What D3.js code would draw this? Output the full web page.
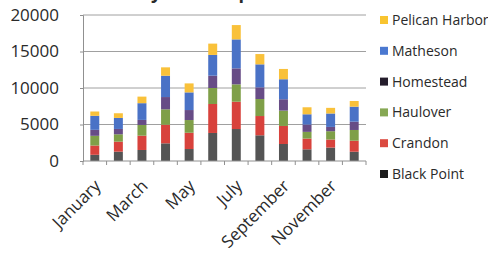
<!DOCTYPE html>
<html>
<head>
<meta charset="utf-8">
<script src="https://cdn.jsdelivr.net/npm/d3@7"></script>
<style>
  body { margin: 0; background: #fff; }
  svg text { font-family: "Open Sans", sans-serif; fill: #2a2a2a; }
</style>
</head>
<body>
<div id="chart"></div>
<script>
var months = ['January', 'February', 'March', 'April', 'May', 'June', 'July',
              'August', 'September', 'October', 'November', 'December'];
var parks = ['Black Point', 'Crandon', 'Haulover', 'Homestead', 'Matheson', 'Pelican Harbor'];

var blackPoint    = [850, 1280, 1510, 2420, 1640, 3840, 4380, 3520, 2330, 1600, 1840, 1270];
var crandon       = [1270, 1370, 1960, 2550, 2230, 3970, 3740, 2640, 2470, 1470, 1100, 1510];
var haulover      = [1330, 1010, 1470, 2110, 1740, 2190, 2380, 2330, 2100, 920, 1140, 1470];
var homestead     = [820, 730, 690, 1680, 1370, 1690, 2190, 1600, 1560, 1000, 590, 1140];
var matheson      = [1920, 1510, 2290, 2920, 2420, 2840, 3970, 3150, 2740, 1410, 1840, 2050];
var pelicanHarbor = [590, 640, 900, 1150, 1230, 1550, 1960, 1410, 1410, 960, 770, 780];

var yTicks = [0, 5000, 10000, 15000, 20000];
var xLabels = ['January', 'March', 'May', 'July', 'September', 'November'];
var title = 'Monthly Visitors per Park';

var barColors = ['#545454', '#d8423c', '#7f9f48', '#674c86', '#4a72c6', '#f9c13a'];
var swatchColors = ['#1c1c1c', '#db4a40', '#86a854', '#241d2c', '#4a78d0', '#f8c430'];

var width = 488, height = 254;
var plotLeft = 83, plotRight = 366, plotTop = 15, plotBottom = 161;

var series = [blackPoint, crandon, haulover, homestead, matheson, pelicanHarbor];
var rows = months.map(function (m, i) {
    var r = { month: m };
    parks.forEach(function (p, j) { r[p] = series[j][i]; });
    return r;
});
var stacked = d3.stack().keys(parks)(rows);

var svg = d3.select('#chart').append('svg')
    .attr('width', width)
    .attr('height', height);

var x = d3.scaleBand().domain(months).range([plotLeft, plotRight]).paddingInner(0.62).paddingOuter(0.31);
var xTickScale = d3.scaleBand().domain(months).range([plotLeft, plotRight]);
var y = d3.scaleLinear().domain([0, 20000]).range([plotBottom, plotTop]);

// title, mostly cut off by the top edge
svg.append('text')
    .attr('x', 86)
    .attr('y', -1)
    .style('font-size', '18px')
    .style('font-weight', 'bold')
    .text(title);

// gridlines
svg.append('g')
    .selectAll('line')
    .data(yTicks.slice(1))
    .enter().append('line')
    .attr('x1', plotLeft).attr('x2', plotRight)
    .attr('y1', function (d) { return y(d); })
    .attr('y2', function (d) { return y(d); })
    .attr('stroke', '#a0a0a0')
    .attr('stroke-width', 1);

// y axis
var yAxis = svg.append('g')
    .attr('transform', 'translate(' + plotLeft + ',0)')
    .call(d3.axisLeft(y).tickValues(yTicks).tickSize(3).tickPadding(21).tickFormat(d3.format('d')));
yAxis.select('.domain').attr('stroke', '#909090');
yAxis.selectAll('.tick line').attr('stroke', '#909090');
yAxis.selectAll('text').style('font-size', '17px').attr('fill', '#2a2a2a')
    .style('font-family', '"Open Sans", sans-serif');

// bars
svg.append('g')
    .selectAll('g')
    .data(stacked)
    .enter().append('g')
    .attr('fill', function (d, i) { return barColors[i]; })
    .selectAll('rect')
    .data(function (d) { return d; })
    .enter().append('rect')
    .attr('x', function (d) { return x(d.data.month); })
    .attr('width', x.bandwidth())
    .attr('y', function (d) { return y(d[1]); })
    .attr('height', function (d) { return y(d[0]) - y(d[1]); });

// x axis with ticks at band edges
var xAxisG = svg.append('g').attr('transform', 'translate(0,' + plotBottom + ')');
xAxisG.append('line')
    .attr('x1', plotLeft).attr('x2', plotRight)
    .attr('stroke', '#909090');
xAxisG.selectAll('line.tk')
    .data(months.concat(['end']))
    .enter().append('line')
    .attr('class', 'tk')
    .attr('x1', function (d, i) { return plotLeft + i * xTickScale.step(); })
    .attr('x2', function (d, i) { return plotLeft + i * xTickScale.step(); })
    .attr('y1', 0).attr('y2', 4)
    .attr('stroke', '#909090');

xAxisG.selectAll('text')
    .data(xLabels)
    .enter().append('text')
    .attr('transform', function (d) {
        return 'translate(' + (xTickScale(d) + xTickScale.bandwidth() / 2 + 7) + ',26) rotate(-45)';
    })
    .attr('text-anchor', 'end')
    .style('font-size', '17px')
    .text(function (d) { return d; });

// legend, top to bottom in reverse order
var legendOrder = parks.slice().reverse();
var legend = svg.append('g')
    .selectAll('g')
    .data(legendOrder)
    .enter().append('g')
    .attr('transform', function (d, i) { return 'translate(380,' + (20 + i * 30.8) + ')'; });
legend.append('rect')
    .attr('x', 0).attr('y', -4)
    .attr('width', 8).attr('height', 8)
    .attr('fill', function (d) { return swatchColors[parks.indexOf(d)]; });
legend.append('text')
    .attr('x', 12)
    .attr('dy', '0.35em')
    .style('font-size', '14px')
    .text(function (d) { return d; });
</script>
</body>
</html>
